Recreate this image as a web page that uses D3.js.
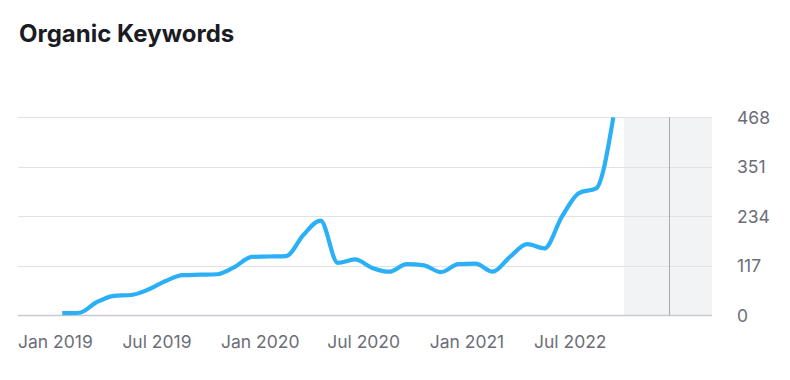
<!DOCTYPE html>
<html>
<head>
<meta charset="utf-8">
<script src="https://cdn.jsdelivr.net/npm/d3@7"></script>
<style>
  body { margin: 0; background: #fff; }
  svg { display: block; font-family: Inter, "Noto Sans", sans-serif; }
</style>
</head>
<body>
<svg id="chart" width="790" height="380"></svg>
<script>
// monthly values, Jan 2019 .. Sep 2021 (mid-month samples)
const months = d3.range(0, 33).map(i => i + 0.5);
const keywords = [5, 6, 31, 46, 48, 61, 81, 95, 96, 97, 114, 138, 139, 140, 190, 224,
                  124, 132, 112, 103, 121, 118, 102, 121, 122, 103, 138, 168, 158, 232, 289, 300, 468];

const yTicks = [0, 117, 234, 351, 468];
const xTickMonths = [0, 6, 12, 18, 24, 30];
const xTickLabels = ["Jan 2019", "Jul 2019", "Jan 2020", "Jul 2020", "Jan 2021", "Jul 2022"];

// greyed-out future window + marker (in month units)
const shadeStart = 33.12, shadeMarker = 35.75;

const plotLeft = 18, plotRight = 712, plotTop = 117.3, plotBottom = 315.3;

const svg = d3.select("#chart");

svg.append("text")
  .attr("x", 19)
  .attr("y", 42)
  .attr("font-size", 24)
  .attr("font-weight", 700)
  .attr("fill", "#1b1c23")
  .text("Organic Keywords");

const x = d3.scaleLinear().domain([-2.07, 38.23]).range([plotLeft, plotRight]);
const y = d3.scaleLinear().domain([0, 468]).range([plotBottom, plotTop]);

// shaded region
svg.append("rect")
  .attr("x", x(shadeStart))
  .attr("y", plotTop)
  .attr("width", plotRight - x(shadeStart))
  .attr("height", plotBottom - plotTop)
  .attr("fill", "#f2f3f5");

// grid lines
svg.append("g")
  .selectAll("line")
  .data(yTicks)
  .join("line")
  .attr("x1", plotLeft)
  .attr("x2", plotRight)
  .attr("y1", d => Math.round(y(d)) + 0.5)
  .attr("y2", d => Math.round(y(d)) + 0.5)
  .attr("stroke", d => d === 0 ? "#c7c9d0" : "#e1e2e8")
  .attr("stroke-width", d => d === 0 ? 1.5 : 1);

svg.append("line")
  .attr("x1", Math.round(x(shadeMarker)) + 0.5)
  .attr("x2", Math.round(x(shadeMarker)) + 0.5)
  .attr("y1", plotTop)
  .attr("y2", plotBottom)
  .attr("stroke", "#a7aab3")
  .attr("stroke-width", 1);

// right axis labels
svg.append("g")
  .selectAll("text")
  .data(yTicks)
  .join("text")
  .attr("x", 737)
  .attr("y", d => y(d))
  .attr("dy", "0.36em")
  .attr("font-size", 17.5)
  .attr("fill", "#6b6e78")
  .text(d => d);

// bottom labels
const xl = svg.append("g")
  .selectAll("text")
  .data(xTickMonths)
  .join("text")
  .attr("x", d => x(d))
  .attr("y", 348)
  .attr("text-anchor", "middle")
  .attr("font-size", 17.5)
  .attr("fill", "#6b6e78")
  .text((d, i) => xTickLabels[i]);

// keep first label inside the plot
xl.each(function(d) {
  const w = this.getComputedTextLength();
  if (x(d) - w / 2 < plotLeft) {
    d3.select(this).attr("text-anchor", "start").attr("x", plotLeft);
  }
});

const line = d3.line()
  .x((d, i) => x(months[i]))
  .y(d => y(d))
  .curve(d3.curveMonotoneX);

svg.append("path")
  .datum(keywords)
  .attr("d", line)
  .attr("fill", "none")
  .attr("stroke", "#2bb0f8")
  .attr("stroke-width", 4.2)
  .attr("stroke-linejoin", "round");
</script>
</body>
</html>
